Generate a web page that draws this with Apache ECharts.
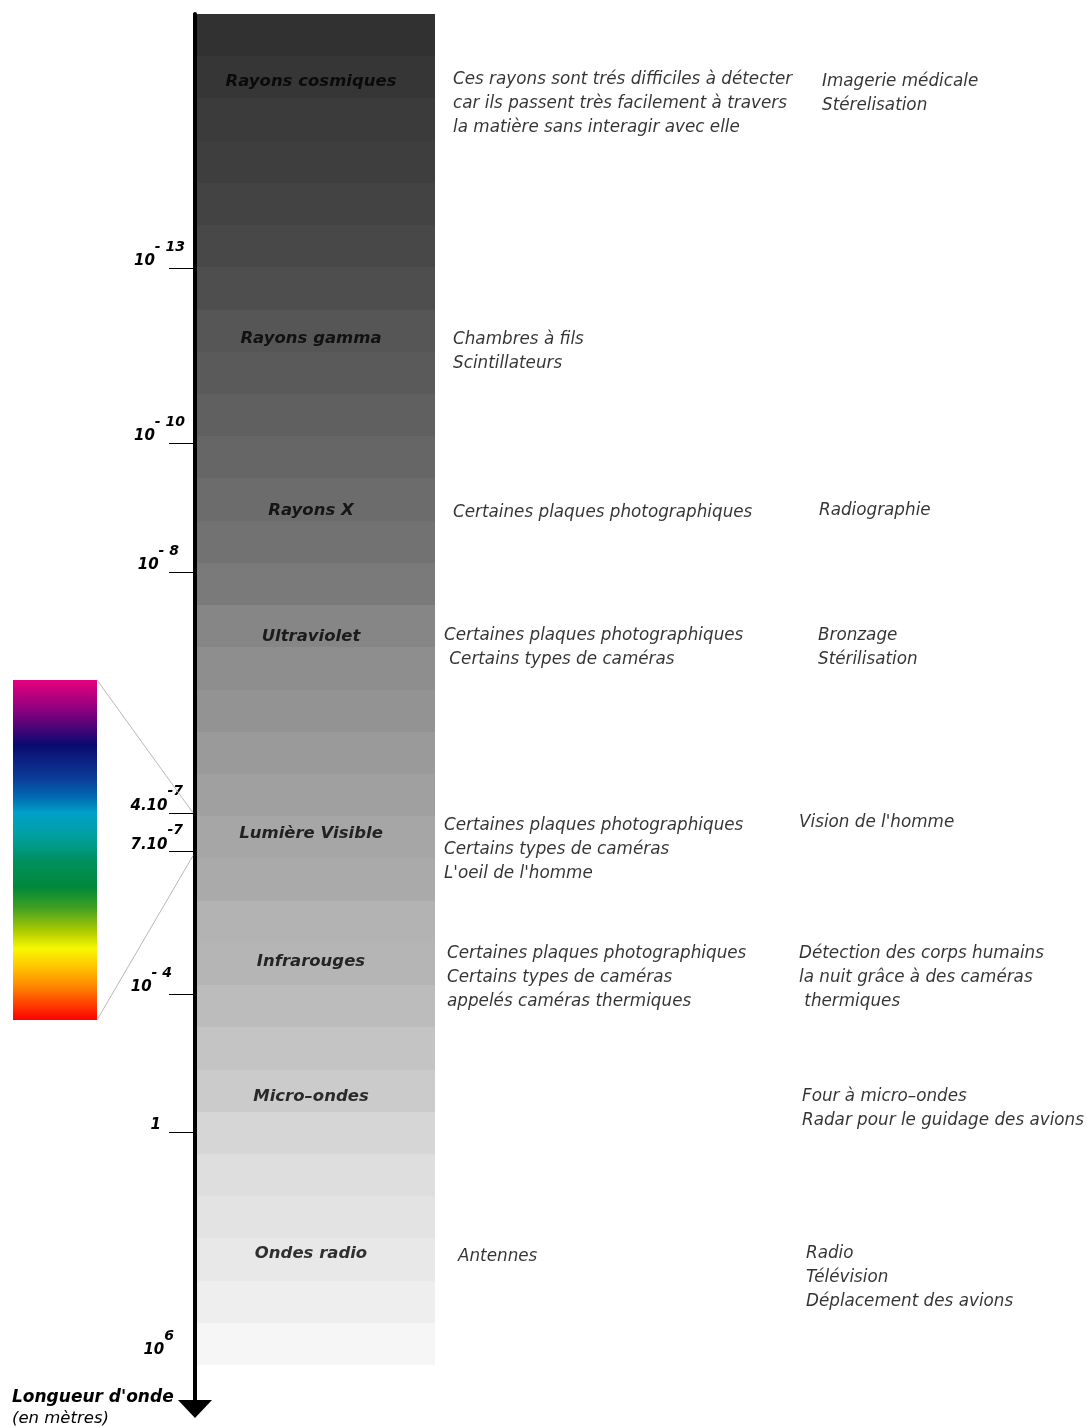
<!DOCTYPE html>
<html><head><meta charset="utf-8">
<script src="https://cdn.jsdelivr.net/npm/echarts@6/dist/echarts.min.js"></script>
<style>html,body{margin:0;padding:0;background:#fff}#c{width:1087px;height:1427px}</style>
</head><body><div id="c"></div>
<script>
// ---------- DATA ----------
// grey level of each of the 32 horizontal bands of the spectrum column (top -> bottom)
const stripeShades = [49,54,59,62,67,72,78,86,90,96,102,108,114,122,134,142,147,154,160,166,170,179,181,188,196,203,214,222,227,232,238,246];
// wavelength ticks, position along the column expressed in band units (0 = top of the column)
const tickPositions = [6.03,10.16,13.23,18.92,19.84,23.22,26.48,31.81];
const tickBases     = ['10','10','10','4.10','7.10','10','1','10'];
const tickExponents = ['- 13','- 10','- 8','-7','-7','- 4','','6'];
const tickMarked    = [true,true,true,true,true,true,true,false];
// domains
const bandNames = ['Rayons cosmiques','Rayons gamma','Rayons X','Ultraviolet','Lumière Visible','Infrarouges','Micro\u2013ondes','Ondes radio'];
const bandPos   = [1.61,7.70,11.77,14.76,19.42,22.45,25.65,29.37];
const detectors = [
  'Ces rayons sont trés difficiles à détecter\ncar ils passent très facilement à travers\nla matière sans interagir avec elle',
  'Chambres à fils\nScintillateurs',
  'Certaines plaques photographiques',
  'Certaines plaques photographiques\n Certains types de caméras',
  'Certaines plaques photographiques\nCertains types de caméras\nL\'oeil de l\'homme',
  'Certaines plaques photographiques\nCertains types de caméras\nappelés caméras thermiques',
  '',
  'Antennes'
];
const detectorPos = [1.56,7.72,11.80,14.73,19.23,22.26,null,29.42];
const uses = [
  'Imagerie médicale\nStérelisation',
  '',
  'Radiographie',
  'Bronzage\nStérilisation',
  'Vision de l\'homme',
  'Détection des corps humains\nla nuit grâce à des caméras\n thermiques',
  'Four à micro\u2013ondes\nRadar pour le guidage des avions',
  'Radio\nTélévision\nDéplacement des avions'
];
const usePos = [1.61,null,11.77,14.73,19.16,22.26,25.65,29.35];
// visible spectrum inset (top = violet end, bottom = red end)
const spectrumColors = ['#e6007e','#8a007e','#0a0a70','#0a3c9a','#0070b4','#00a0c8','#00a0a0','#009060','#00883a','#40a020','#b0cc00','#f8f800','#ffc800','#ff8800','#ff0000'];
const spectrumStops  = [0,0.09,0.19,0.29,0.35,0.39,0.46,0.53,0.61,0.67,0.74,0.79,0.84,0.90,1];
const visibleFrom = tickPositions[3], visibleTo = tickPositions[4];

// ---------- LAYOUT ----------
const L = {
  gridLeft:195, gridTop:14, gridBottom:18, xMax:892, yMax:33.04,
  bandX0:2, bandX1:240, bandLabelX:116,
  detX:[258,258,258,249,249,252,0,263],
  useX:[627,0,624,623,604,604,607,611],
  spec:{x:13,y:680,w:84,h:340}
};
const FONT = 'DejaVu Sans';
const tickPad = [0,0,6,2,2,13,24,11];

const chart = echarts.init(document.getElementById('c'));

function tickIndex(v){ return tickPositions.findIndex(t => Math.abs(t - v) < 1e-6); }

const baseFont = {fontFamily:FONT,fontWeight:'bold',fontStyle:'italic',color:'#000'};
const rich = {
  b: Object.assign({fontSize:15,lineHeight:14}, baseFont),
  s: Object.assign({fontSize:14,lineHeight:14}, baseFont),
  h: Object.assign({}, baseFont, {fontSize:14,lineHeight:14,color:'rgba(0,0,0,0)'})
};
tickPad.forEach(p => { rich['p'+p] = {width:p, fontSize:14, lineHeight:14}; });

const detRows = detectorPos.map((p,i)=>i).filter(i => detectorPos[i] !== null);
const useRows = usePos.map((p,i)=>i).filter(i => usePos[i] !== null);

const noteLabel = {
  show:true, position:[0,0], align:'left', verticalAlign:'top', offset:[0,-12],
  fontFamily:FONT, fontStyle:'italic', fontSize:16.8, lineHeight:24, color:'#000',
  formatter: p => p.name
};

chart.setOption({
  animation:false,
  backgroundColor:'#fff',
  title:{
    text:"Longueur d'onde", subtext:'(en mètres)', left:12, top:1389, padding:0, itemGap:4,
    textStyle:{fontFamily:FONT,fontSize:17,fontWeight:'bold',fontStyle:'italic',color:'#000'},
    subtextStyle:{fontFamily:FONT,fontSize:16.5,fontStyle:'italic',color:'#000'}
  },
  grid:{left:L.gridLeft, right:0, top:L.gridTop, bottom:L.gridBottom},
  xAxis:{type:'value', min:0, max:L.xMax, show:false},
  yAxis:{
    type:'value', inverse:true, min:0, max:L.yMax,
    splitLine:{show:false},
    axisLine:{show:true, onZero:false, symbol:['triangle','none'], symbolSize:[34,18], lineStyle:{color:'#000', width:4}},
    axisTick:{show:true, inside:false, length:26, lineStyle:{color:'#000', width:1},
      customValues: tickPositions.filter((t,i)=>tickMarked[i])},
    axisLabel:{show:true, margin:10, verticalAlign:'bottom', customValues: tickPositions, rich:rich,
      formatter: v => {
        const i = tickIndex(v); if (i < 0) return '';
        const pad = tickPad[i] ? '{p' + tickPad[i] + '| }' : '';
        if (!tickExponents[i]) return '{b|' + tickBases[i] + '}' + pad;
        return '{s|' + tickExponents[i] + '}' + pad + '\n{b|' + tickBases[i] + '}{h|' + tickExponents[i] + '}' + pad;
      }}
  },
  series:[
    {
      type:'custom', name:'bands', silent:true, z:1,
      data: stripeShades.map((g,i)=>[i,g]),
      encode:{y:0, x:1},
      renderItem:(params, api) => {
        const i = api.value(0), g = api.value(1);
        const p0 = api.coord([L.bandX0, i]), p1 = api.coord([L.bandX1, i+1]);
        const y0 = Math.round(p0[1]), y1 = Math.round(p1[1]);
        return {type:'rect', shape:{x:Math.round(p0[0]), y:y0, width:Math.round(p1[0]-p0[0]), height:y1-y0},
          style:{fill:'rgb('+g+','+g+','+g+')'}};
      }
    },
    {
      type:'custom', name:'spectrum', silent:true, z:1,
      data:[[0, visibleFrom]],
      encode:{x:0, y:1},
      renderItem:(params, api) => {
        const a = api.coord([0, visibleFrom]), b = api.coord([0, visibleTo]);
        const S = L.spec;
        return {type:'group', children:[
          {type:'rect', shape:{x:S.x, y:S.y, width:S.w, height:S.h},
            style:{fill:{type:'linear', x:0, y:0, x2:0, y2:1,
              colorStops: spectrumColors.map((c,k)=>({offset:spectrumStops[k], color:c}))}}},
          {type:'line', shape:{x1:S.x+S.w, y1:S.y, x2:a[0]-2, y2:a[1]}, style:{stroke:'#b8b8b8', lineWidth:1}},
          {type:'line', shape:{x1:S.x+S.w, y1:S.y+S.h, x2:b[0]-2, y2:b[1]+4}, style:{stroke:'#b8b8b8', lineWidth:1}}
        ]};
      }
    },
    {
      type:'scatter', name:'domaines', silent:true, symbolSize:0, z:5,
      data: bandNames.map((n,i)=>({name:n, value:[L.bandLabelX, bandPos[i]]})),
      label:{show:true, position:[0,0], align:'center', verticalAlign:'middle',
        fontFamily:FONT, fontWeight:'bold', fontStyle:'italic', fontSize:16.5, color:'#000', formatter:p=>p.name}
    },
    {
      type:'scatter', name:'détecteurs', silent:true, symbolSize:0, z:5,
      data: detRows.map(i=>({name:detectors[i], value:[L.detX[i], detectorPos[i]]})),
      label:noteLabel
    },
    {
      type:'scatter', name:'applications', silent:true, symbolSize:0, z:5,
      data: useRows.map(i=>({name:uses[i], value:[L.useX[i], usePos[i]]})),
      label:noteLabel
    }
  ]
});
</script></body></html>
